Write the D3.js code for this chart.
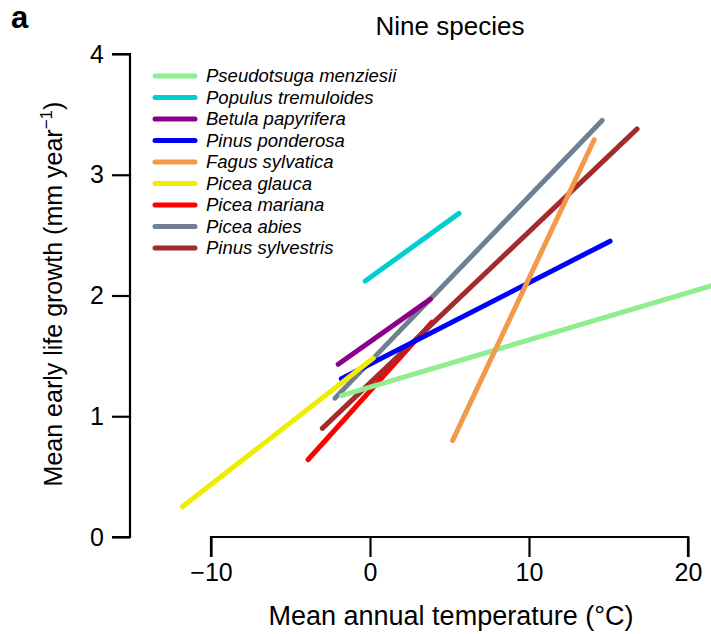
<!DOCTYPE html>
<html>
<head>
<meta charset="utf-8">
<script src="https://cdn.jsdelivr.net/npm/d3@7"></script>
<style>
  body { margin: 0; background: #fff; }
  svg { display: block; font-family: "Liberation Sans", Arial, sans-serif; }
</style>
</head>
<body>
<svg width="711" height="634"></svg>
<script>
// species, colours and fitted segment endpoints (temp in °C, growth in mm/yr)
const species = ['Pseudotsuga menziesii', 'Populus tremuloides', 'Betula papyrifera', 'Pinus ponderosa',
  'Fagus sylvatica', 'Picea glauca', 'Picea mariana', 'Picea abies', 'Pinus sylvestris'];
const colors = ['#90EE90', '#00CED1', '#8B008B', '#0000FF', '#F29A4A', '#EEEE00', '#FF0000', '#708090', '#A52A2A'];
const tempStart = [-1.8, -0.3, -2.0, -1.8, 5.2, -11.8, -3.9, -2.2, -3.0];
const tempEnd   = [24.0, 5.6, 3.8, 15.1, 14.1, 0.2, 3.9, 14.6, 16.8];
const growthStart = [1.17, 2.12, 1.43, 1.31, 0.80, 0.25, 0.64, 1.15, 0.90];
const growthEnd   = [2.18, 2.68, 1.97, 2.45, 3.29, 1.48, 1.78, 3.45, 3.38];
const xTicks = [-10, 0, 10, 20];
const yTicks = [0, 1, 2, 3, 4];

// which segment sits on top of which (bottom first)
const drawOrder = [7, 6, 8, 3, 2, 5, 0, 4, 1];

const svg = d3.select('svg');

const x = d3.scaleLinear().domain([-10, 20]).range([211, 688]);
const y = d3.scaleLinear().domain([0, 4]).range([537, 54]);

// segments
svg.append('g').selectAll('line')
  .data(drawOrder)
  .join('line')
  .attr('x1', i => x(tempStart[i]))
  .attr('y1', i => y(growthStart[i]))
  .attr('x2', i => x(tempEnd[i]))
  .attr('y2', i => y(growthEnd[i]))
  .attr('stroke', i => colors[i])
  .attr('stroke-width', 5)
  .attr('stroke-linecap', 'round');

// axes, R style (detached)
const xAxis = d3.axisBottom(x).tickValues(xTicks).tickSize(20).tickPadding(6)
  .tickFormat(d => d < 0 ? '\u2212' + Math.abs(d) : d);
const gX = svg.append('g')
  .attr('transform', 'translate(0,537)')
  .call(xAxis);
gX.selectAll('text').attr('font-size', 25).attr('fill', '#000');

const yAxis = d3.axisLeft(y).tickValues(yTicks).tickSize(18).tickPadding(8)
  .tickFormat(d3.format('d'));
const gY = svg.append('g')
  .attr('transform', 'translate(130,0)')
  .call(yAxis);
gY.selectAll('text').attr('font-size', 25).attr('fill', '#000');

svg.selectAll('.domain, .tick line').attr('stroke', '#000').attr('stroke-width', 2.2);
gX.select('.domain').attr('d', 'M' + x(-10) + ',20V0H' + x(20) + 'V20');
gY.select('.domain').attr('d', 'M-18,' + y(4) + 'H0V' + y(0) + 'H-18');

// legend
const legend = svg.append('g').attr('transform', 'translate(155,76)');
const row = legend.selectAll('g')
  .data(species)
  .join('g')
  .attr('transform', (d, i) => 'translate(0,' + (i * 21.5) + ')');
row.append('line')
  .attr('x1', 0).attr('x2', 40)
  .attr('stroke', (d, i) => colors[i])
  .attr('stroke-width', 5)
  .attr('stroke-linecap', 'round');
row.append('text')
  .attr('x', 51)
  .attr('dy', '0.35em')
  .attr('font-size', 18.5)
  .attr('font-style', 'italic')
  .text(d => d);

// titles
svg.append('text')
  .attr('x', 450).attr('y', 35)
  .attr('text-anchor', 'middle')
  .attr('font-size', 26)
  .text('Nine species');

svg.append('text')
  .attr('x', 11).attr('y', 28)
  .attr('font-size', 31)
  .attr('font-weight', 'bold')
  .text('a');

svg.append('text')
  .attr('x', 451).attr('y', 625)
  .attr('text-anchor', 'middle')
  .attr('font-size', 27)
  .text('Mean annual temperature (\u00B0C)');

const yl = svg.append('text')
  .attr('transform', 'translate(62,294) rotate(-90)')
  .attr('text-anchor', 'middle')
  .attr('font-size', 25);
yl.append('tspan').text('Mean early life growth (mm year');
yl.append('tspan').attr('dy', -10).attr('font-size', 17).text('\u22121');
yl.append('tspan').attr('dy', 10).text(')');
</script>
</body>
</html>
